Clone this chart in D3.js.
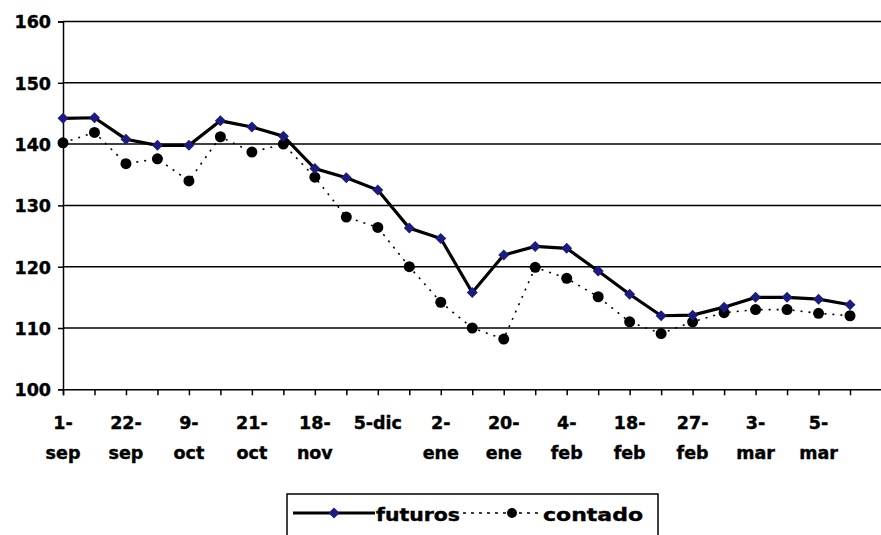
<!DOCTYPE html>
<html><head><meta charset="utf-8">
<script src="https://cdn.jsdelivr.net/npm/d3@7"></script>
<style>body{margin:0;background:#fff}svg{display:block}text{font-family:"DejaVu Sans",Verdana,sans-serif;font-weight:bold;fill:#000}</style>
</head><body><svg id="c" width="881" height="535"></svg>
<script>
const categories = ["1-sep","","22-sep","","9-oct","","21-oct","","18-nov","","5-dic","","2-ene","","20-ene","","4-feb","","18-feb","","27-feb","","3-mar","","5-mar",""];
const futuros = [144.2,144.3,140.8,139.8,139.8,143.8,142.8,141.3,136.0,134.5,132.5,126.3,124.6,115.8,121.9,123.3,123.0,119.3,115.5,112.0,112.1,113.4,115.0,115.0,114.7,113.8];
const contado = [140.2,141.9,136.8,137.6,134.0,141.2,138.7,140.0,134.6,128.1,126.4,120.0,114.2,110.0,108.2,119.9,118.1,115.1,111.0,109.1,111.0,112.5,113.0,113.0,112.4,112.0];
const yTicks = [100,110,120,130,140,150,160];
const xLabels = [["1-","sep"],["22-","sep"],["9-","oct"],["21-","oct"],["18-","nov"],["5-dic",""],["2-","ene"],["20-","ene"],["4-","feb"],["18-","feb"],["27-","feb"],["3-","mar"],["5-","mar"]];
const seriesNames = ["futuros","contado"];

const svg = d3.select("#c");
const x = d3.scaleLinear().domain([0, categories.length]).range([63, 881.5]);
const y = d3.scaleLinear().domain([100,160]).range([389.3, 21.5]);

svg.append("g").selectAll("line").data(yTicks.filter(d=>d>100)).join("line")
  .attr("x1",63).attr("x2",881).attr("y1",d=>y(d)).attr("y2",d=>y(d))
  .attr("stroke","#000").attr("stroke-width",1.5);

const ya = svg.append("g").attr("transform","translate(63,0)")
  .call(d3.axisLeft(y).tickValues(yTicks).tickSize(5).tickPadding(7).tickFormat(d3.format("d")));
ya.select(".domain").attr("stroke","#000").attr("stroke-width",1.5);
ya.selectAll(".tick line").attr("stroke","#000").attr("stroke-width",1.5);
ya.selectAll("text").attr("font-size",17.5).attr("font-family","DejaVu Sans").attr("font-weight","bold")
  .attr("fill","#000").attr("stroke","#000").attr("stroke-width",0.4).attr("dy","0.36em");

const xa = svg.append("g").attr("transform",`translate(0,${y(100)})`)
  .call(d3.axisBottom(x).tickValues(d3.range(0, categories.length+1)).tickSize(6).tickFormat(""));
xa.select(".domain").attr("stroke","#000").attr("stroke-width",1.5);
xa.selectAll(".tick line").attr("stroke","#000").attr("stroke-width",1.5);

const lbl = svg.append("g");
xLabels.forEach((l,i)=>{
  const t = lbl.append("text").attr("x", x(i*2)).attr("text-anchor","middle").attr("font-size",17.5)
    .attr("stroke","#000").attr("stroke-width",0.4);
  t.append("tspan").attr("x",x(i*2)).attr("y",429).text(l[0]);
  if(l[1]) t.append("tspan").attr("x",x(i*2)).attr("y",459).text(l[1]);
});

const line = d3.line().x((d,i)=>x(i)).y(d=>y(d));
svg.append("path").datum(contado).attr("d",line).attr("fill","none")
  .attr("stroke","#000").attr("stroke-width",1.6).attr("stroke-dasharray","2,6");
svg.append("g").selectAll("circle").data(contado).join("circle")
  .attr("cx",(d,i)=>x(i)).attr("cy",d=>y(d)).attr("r",5.5).attr("fill","#000");

svg.append("path").datum(futuros).attr("d",line).attr("fill","none")
  .attr("stroke","#000").attr("stroke-width",3.2);
const dia = "M0,-5.5L5.5,0L0,5.5L-5.5,0Z";
svg.append("g").selectAll("path").data(futuros).join("path")
  .attr("d",dia).attr("transform",(d,i)=>`translate(${x(i)},${y(d)})`).attr("fill","#1c1c80");

const lg = svg.append("g");
lg.append("rect").attr("x",287).attr("y",494).attr("width",371).attr("height",50)
  .attr("fill","#fff").attr("stroke","#000").attr("stroke-width",1.5);
lg.append("line").attr("x1",293).attr("x2",375).attr("y1",513).attr("y2",513).attr("stroke","#000").attr("stroke-width",3);
lg.append("path").attr("d",dia).attr("transform","translate(334,513)").attr("fill","#1c1c80");
lg.append("text").attr("x",376).attr("y",521).attr("font-size",18).attr("textLength",84).attr("lengthAdjust","spacingAndGlyphs")
  .attr("stroke","#000").attr("stroke-width",0.4).text(seriesNames[0]);
lg.append("line").attr("x1",463).attr("x2",538).attr("y1",513).attr("y2",513).attr("stroke","#000").attr("stroke-width",1.6).attr("stroke-dasharray","3,5");
lg.append("circle").attr("cx",512).attr("cy",513).attr("r",5).attr("fill","#000");
lg.append("text").attr("x",543).attr("y",521).attr("font-size",18).attr("textLength",100).attr("lengthAdjust","spacingAndGlyphs")
  .attr("stroke","#000").attr("stroke-width",0.4).text(seriesNames[1]);
</script></body></html>
